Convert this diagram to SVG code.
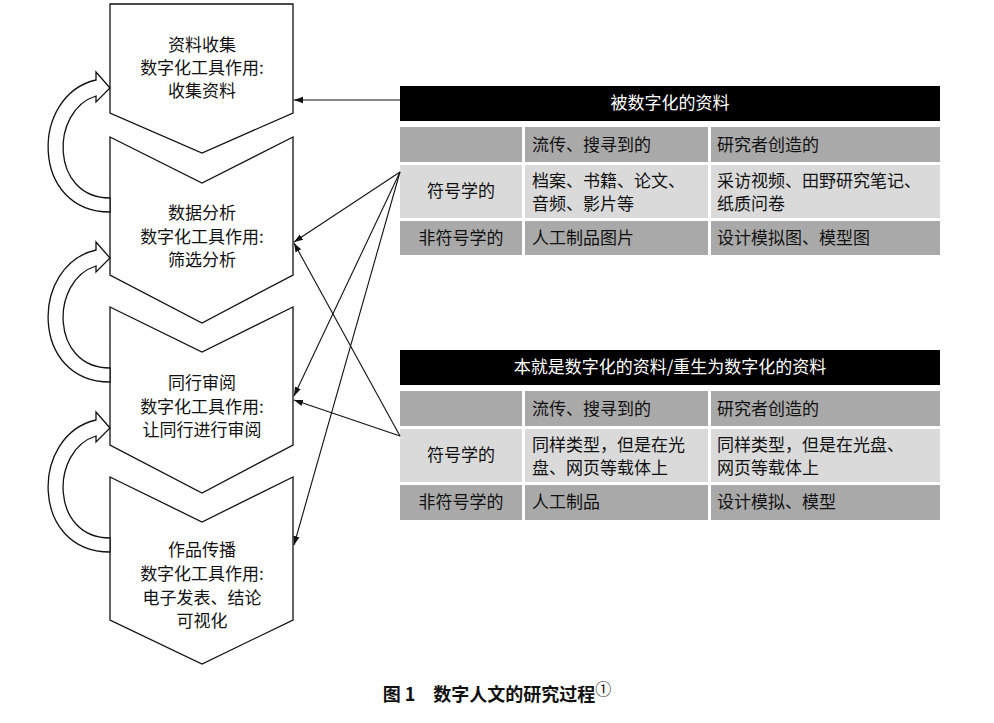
<svg xmlns="http://www.w3.org/2000/svg" width="994" height="723" viewBox="0 0 994 723">
<defs>
<style>
text{font-family:"Noto Sans CJK SC","Liberation Serif",serif;font-size:17px;fill:#111}
.c{text-anchor:middle}
.w{fill:#fff}
.chev{fill:#fff;stroke:#111;stroke-width:1.3}
.hd{fill:#000}
.g{fill:#a9a9a9}
.l{fill:#dadada}
.cn{fill:none;stroke:#111;stroke-width:1.1}
</style>
<marker id="ah" viewBox="0 0 10 10" refX="10" refY="5" markerWidth="9" markerHeight="9" orient="auto" markerUnits="userSpaceOnUse"><path d="M0,1.5L10,5L0,8.5z" fill="#111"/></marker>
</defs>
<rect width="994" height="723" fill="#fff"/>
<g id="n1"><path class="chev" d="M110,4H293V113L202,153L110,113Z"/>
<text class="c" x="202" y="51">资料收集</text><text class="c" x="202" y="74">数字化工具作用:</text><text class="c" x="202" y="97">收集资料</text></g>
<g id="n2"><path class="chev" d="M110,137L202,183L293,137V275L202,323L110,275Z"/>
<text class="c" x="202" y="219">数据分析</text><text class="c" x="202" y="243">数字化工具作用:</text><text class="c" x="202" y="266">筛选分析</text></g>
<g id="n3"><path class="chev" d="M110,307L202,352L293,307V445L202,493L110,445Z"/>
<text class="c" x="202" y="389">同行审阅</text><text class="c" x="202" y="413">数字化工具作用:</text><text class="c" x="202" y="436">让同行进行审阅</text></g>
<g id="n4"><path class="chev" d="M110,477L202,522L293,477V620L202,664L110,620Z"/>
<text class="c" x="202" y="556">作品传播</text><text class="c" x="202" y="580">数字化工具作用:</text><text class="c" x="202" y="604">电子发表、结论</text><text class="c" x="202" y="627">可视化</text></g>
<g id="loops">
<path class="chev" d="M110,212C30,212 30,95 96,80L96,72L110,88L96,102L96,96C50,110 50,198 110,198Z"/>
<path class="chev" transform="translate(0,170)" d="M110,212C30,212 30,95 96,80L96,72L110,88L96,102L96,96C50,110 50,198 110,198Z"/>
<path class="chev" transform="translate(0,340)" d="M110,212C30,212 30,95 96,80L96,72L110,88L96,102L96,96C50,110 50,198 110,198Z"/>
</g>
<g id="t1">
<rect class="hd" x="400" y="86" width="540" height="35"/><text class="c w" x="670" y="109">被数字化的资料</text>
<rect class="g" x="400" y="127" width="122" height="35"/><rect class="g" x="525" y="127" width="183" height="35"/><rect class="g" x="711" y="127" width="229" height="35"/>
<rect class="l" x="400" y="165" width="122" height="53"/><rect class="l" x="525" y="165" width="183" height="53"/><rect class="l" x="711" y="165" width="229" height="53"/>
<rect class="g" x="400" y="221" width="122" height="34"/><rect class="g" x="525" y="221" width="183" height="34"/><rect class="g" x="711" y="221" width="229" height="34"/>
<text x="532" y="151">流传、搜寻到的</text><text x="717" y="151">研究者创造的</text>
<text class="c" x="461" y="197">符号学的</text><text x="532" y="187">档案、书籍、论文、</text><text x="532" y="210">音频、影片等</text>
<text x="717" y="187">采访视频、田野研究笔记、</text><text x="717" y="210">纸质问卷</text>
<text class="c" x="461" y="244">非符号学的</text><text x="532" y="244">人工制品图片</text><text x="717" y="244">设计模拟图、模型图</text>
</g>
<g id="t2">
<rect class="hd" x="400" y="350" width="540" height="35"/><text class="c w" x="670" y="373">本就是数字化的资料/重生为数字化的资料</text>
<rect class="g" x="400" y="391" width="122" height="35"/><rect class="g" x="525" y="391" width="183" height="35"/><rect class="g" x="711" y="391" width="229" height="35"/>
<rect class="l" x="400" y="429" width="122" height="53"/><rect class="l" x="525" y="429" width="183" height="53"/><rect class="l" x="711" y="429" width="229" height="53"/>
<rect class="g" x="400" y="485" width="122" height="35"/><rect class="g" x="525" y="485" width="183" height="35"/><rect class="g" x="711" y="485" width="229" height="35"/>
<text x="532" y="415">流传、搜寻到的</text><text x="717" y="415">研究者创造的</text>
<text class="c" x="461" y="461">符号学的</text><text x="532" y="451">同样类型，但是在光</text><text x="532" y="474">盘、网页等载体上</text>
<text x="717" y="451">同样类型，但是在光盘、</text><text x="717" y="474">网页等载体上</text>
<text class="c" x="461" y="508">非符号学的</text><text x="532" y="508">人工制品</text><text x="717" y="508">设计模拟、模型</text>
</g>
<g id="connectors">
<line class="cn" x1="400" y1="100" x2="294" y2="100" marker-end="url(#ah)"/>
<line class="cn" x1="400" y1="172" x2="294" y2="242" marker-end="url(#ah)"/>
<line class="cn" x1="400" y1="172" x2="294" y2="396" marker-end="url(#ah)"/>
<line class="cn" x1="400" y1="172" x2="294" y2="545" marker-end="url(#ah)"/>
<line class="cn" x1="400" y1="436" x2="294" y2="243" marker-end="url(#ah)"/>
<line class="cn" x1="400" y1="436" x2="294" y2="400" marker-end="url(#ah)"/>
</g>
<text class="c" x="497" y="701" style="font-weight:bold;font-size:18px">图 1　数字人文的研究过程<tspan style="font-weight:normal" dy="-6" font-size="16">①</tspan></text>
</svg>
